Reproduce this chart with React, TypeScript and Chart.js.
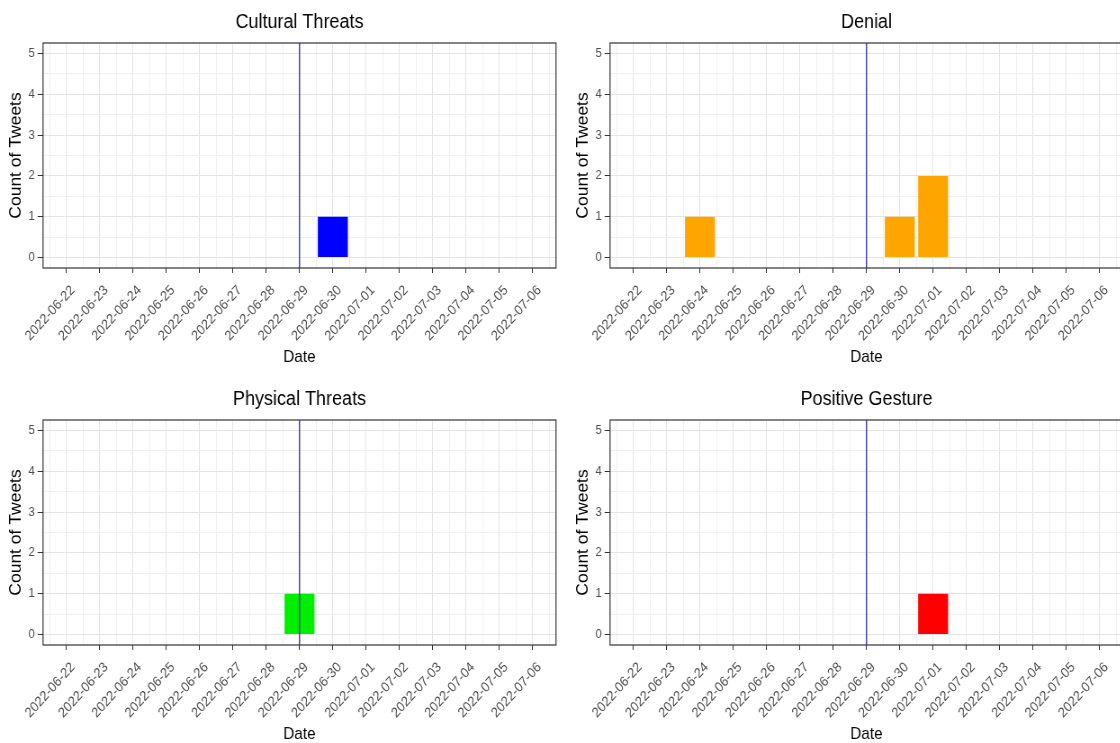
import React, { useEffect, useRef } from "react";
import { Chart, registerables } from "chart.js";

Chart.register(...registerables);

// ---------- data ----------
const dateLabels = [
  "2022-06-22", "2022-06-23", "2022-06-24", "2022-06-25", "2022-06-26",
  "2022-06-27", "2022-06-28", "2022-06-29", "2022-06-30", "2022-07-01",
  "2022-07-02", "2022-07-03", "2022-07-04", "2022-07-05", "2022-07-06",
];
const markerDate = "2022-06-29";

const panelTitles = ["Cultural Threats", "Denial", "Physical Threats", "Positive Gesture"];
const culturalThreats = [0, 0, 0, 0, 0, 0, 0, 0, 1, 0, 0, 0, 0, 0, 0];
const denial = [0, 0, 1, 0, 0, 0, 0, 0, 1, 2, 0, 0, 0, 0, 0];
const physicalThreats = [0, 0, 0, 0, 0, 0, 0, 1, 0, 0, 0, 0, 0, 0, 0];
const positiveGesture = [0, 0, 0, 0, 0, 0, 0, 0, 0, 1, 0, 0, 0, 0, 0];
const panelColors = ["#0000ff", "#ffa500", "#00ee00", "#ff0000"];

const yAxisTitle = "Count of Tweets";
const xAxisTitle = "Date";

// ---------- layout / style ----------
const SQUEEZE = 0.9;
const W = 624;
const H = 372;
const FONT = "'Liberation Sans', Arial, sans-serif";
const AREA_BOTTOM = 268;
const AXIS_LEFT = 47.8;

const panelSeries = [culturalThreats, denial, physicalThreats, positiveGesture];
const panelPos = [
  { left: 0, top: 0 },
  { left: 567, top: 0 },
  { left: 0, top: 377 },
  { left: 567, top: 377 },
];

const markerIndex = dateLabels.indexOf(markerDate);

const decorPlugin = {
  id: "decor",
  afterDatasetsDraw(chart: any) {
    const { ctx, chartArea } = chart;
    const x = chart.scales.x.getPixelForValue(markerIndex);
    ctx.save();
    ctx.strokeStyle = "#2626b8";
    ctx.lineWidth = 1.3;
    ctx.beginPath();
    ctx.moveTo(x, chartArea.top);
    ctx.lineTo(x, chartArea.bottom);
    ctx.stroke();
    ctx.restore();
  },
  afterDraw(chart: any) {
    const { ctx, chartArea } = chart;
    ctx.save();
    ctx.strokeStyle = "#333333";
    ctx.lineWidth = 1.2;
    ctx.strokeRect(chartArea.left, chartArea.top, chartArea.right - chartArea.left, chartArea.bottom - chartArea.top);
    ctx.restore();
  },
};

const gridColor = (c: any) => (Number.isInteger(c.tick?.value) ? "#e4e4e4" : "#f0f0f0");
const tickMarkColor = (c: any) => (Number.isInteger(c.tick?.value) ? "#333333" : "rgba(0,0,0,0)");

function Panel({ idx }: { idx: number }) {
  const ref = useRef<HTMLCanvasElement>(null);
  useEffect(() => {
    const values = panelSeries[idx];
    const chart = new Chart(ref.current as HTMLCanvasElement, {
      type: "bar",
      data: {
        datasets: [
          {
            data: values.map((v, i) => ({ x: i, y: v })),
            backgroundColor: panelColors[idx],
            borderWidth: 0,
            inflateAmount: 0,
            barThickness: "flex",
            categoryPercentage: 1,
            barPercentage: 0.9,
          } as any,
        ],
      },
      options: {
        responsive: false,
        animation: false,
        devicePixelRatio: 1,
        layout: { padding: { left: 0, right: W - 556 / SQUEEZE, top: 0, bottom: 0 } },
        plugins: {
          legend: { display: false },
          tooltip: { enabled: false },
          title: {
            display: true,
            fullSize: false,
            text: panelTitles[idx],
            color: "#000",
            font: { family: FONT, size: 20, weight: "normal", lineHeight: 1.2 },
            padding: { top: 10, bottom: 9 },
          },
        },
        scales: {
          x: {
            type: "linear",
            min: -0.7,
            max: 14.7,
            offset: false,
            border: { display: false },
            grid: {
              offset: false,
              lineWidth: 1,
              color: gridColor,
              tickColor: tickMarkColor,
              tickLength: 5,
            },
            ticks: {
              stepSize: 0.5,
              includeBounds: false,
              autoSkip: false,
              minRotation: 45,
              maxRotation: 45,
              padding: 9,
              labelOffset: 7.4,
              color: "#4d4d4d",
              font: { family: FONT, size: 14 },
              callback: (v: any) => {
                const n = Number(v);
                return Number.isInteger(n) && n >= 0 && n < dateLabels.length ? dateLabels[n] : "";
              },
            },
            title: {
              display: true,
              text: xAxisTitle,
              color: "#000",
              font: { family: FONT, size: 17, lineHeight: 1.2 },
              padding: { top: 0, bottom: 4.8 },
            },
            afterFit: (s: any) => {
              s.height = H - AREA_BOTTOM;
              s.paddingLeft = 0;
              s.paddingRight = 0;
            },
          },
          y: {
            min: -0.26,
            max: 5.26,
            border: { display: false },
            grid: {
              lineWidth: 1,
              color: gridColor,
              tickColor: tickMarkColor,
              tickLength: 6,
            },
            ticks: {
              stepSize: 0.5,
              includeBounds: false,
              autoSkip: false,
              padding: 3,
              color: "#4d4d4d",
              font: { family: FONT, size: 13 },
              callback: (v: any) => (Number.isInteger(Number(v)) ? String(v) : ""),
            },
            title: {
              display: true,
              text: yAxisTitle,
              color: "#000",
              font: { family: FONT, size: 17.5, lineHeight: 1.2 },
              padding: { top: 7.3, bottom: 0 },
            },
            afterFit: (s: any) => {
              s.width = AXIS_LEFT;
              s.paddingTop = 0;
              s.paddingBottom = 0;
            },
          },
        },
      } as any,
      plugins: [decorPlugin],
    });
    return () => chart.destroy();
  }, [idx]);

  const pos = panelPos[idx];
  return (
    <div
      style={{
        position: "absolute",
        left: pos.left,
        top: pos.top,
        width: W,
        height: H,
        transform: `scaleX(${SQUEEZE})`,
        transformOrigin: "0 0",
      }}
    >
      <canvas ref={ref} width={W} height={H} style={{ width: W, height: H, display: "block" }} />
    </div>
  );
}

export default function App() {
  return (
    <div
      style={{
        position: "fixed",
        left: 0,
        top: 0,
        width: 1120,
        height: 743,
        overflow: "hidden",
        background: "#ffffff",
      }}
    >
      {panelTitles.map((_, i) => (
        <Panel key={i} idx={i} />
      ))}
    </div>
  );
}
